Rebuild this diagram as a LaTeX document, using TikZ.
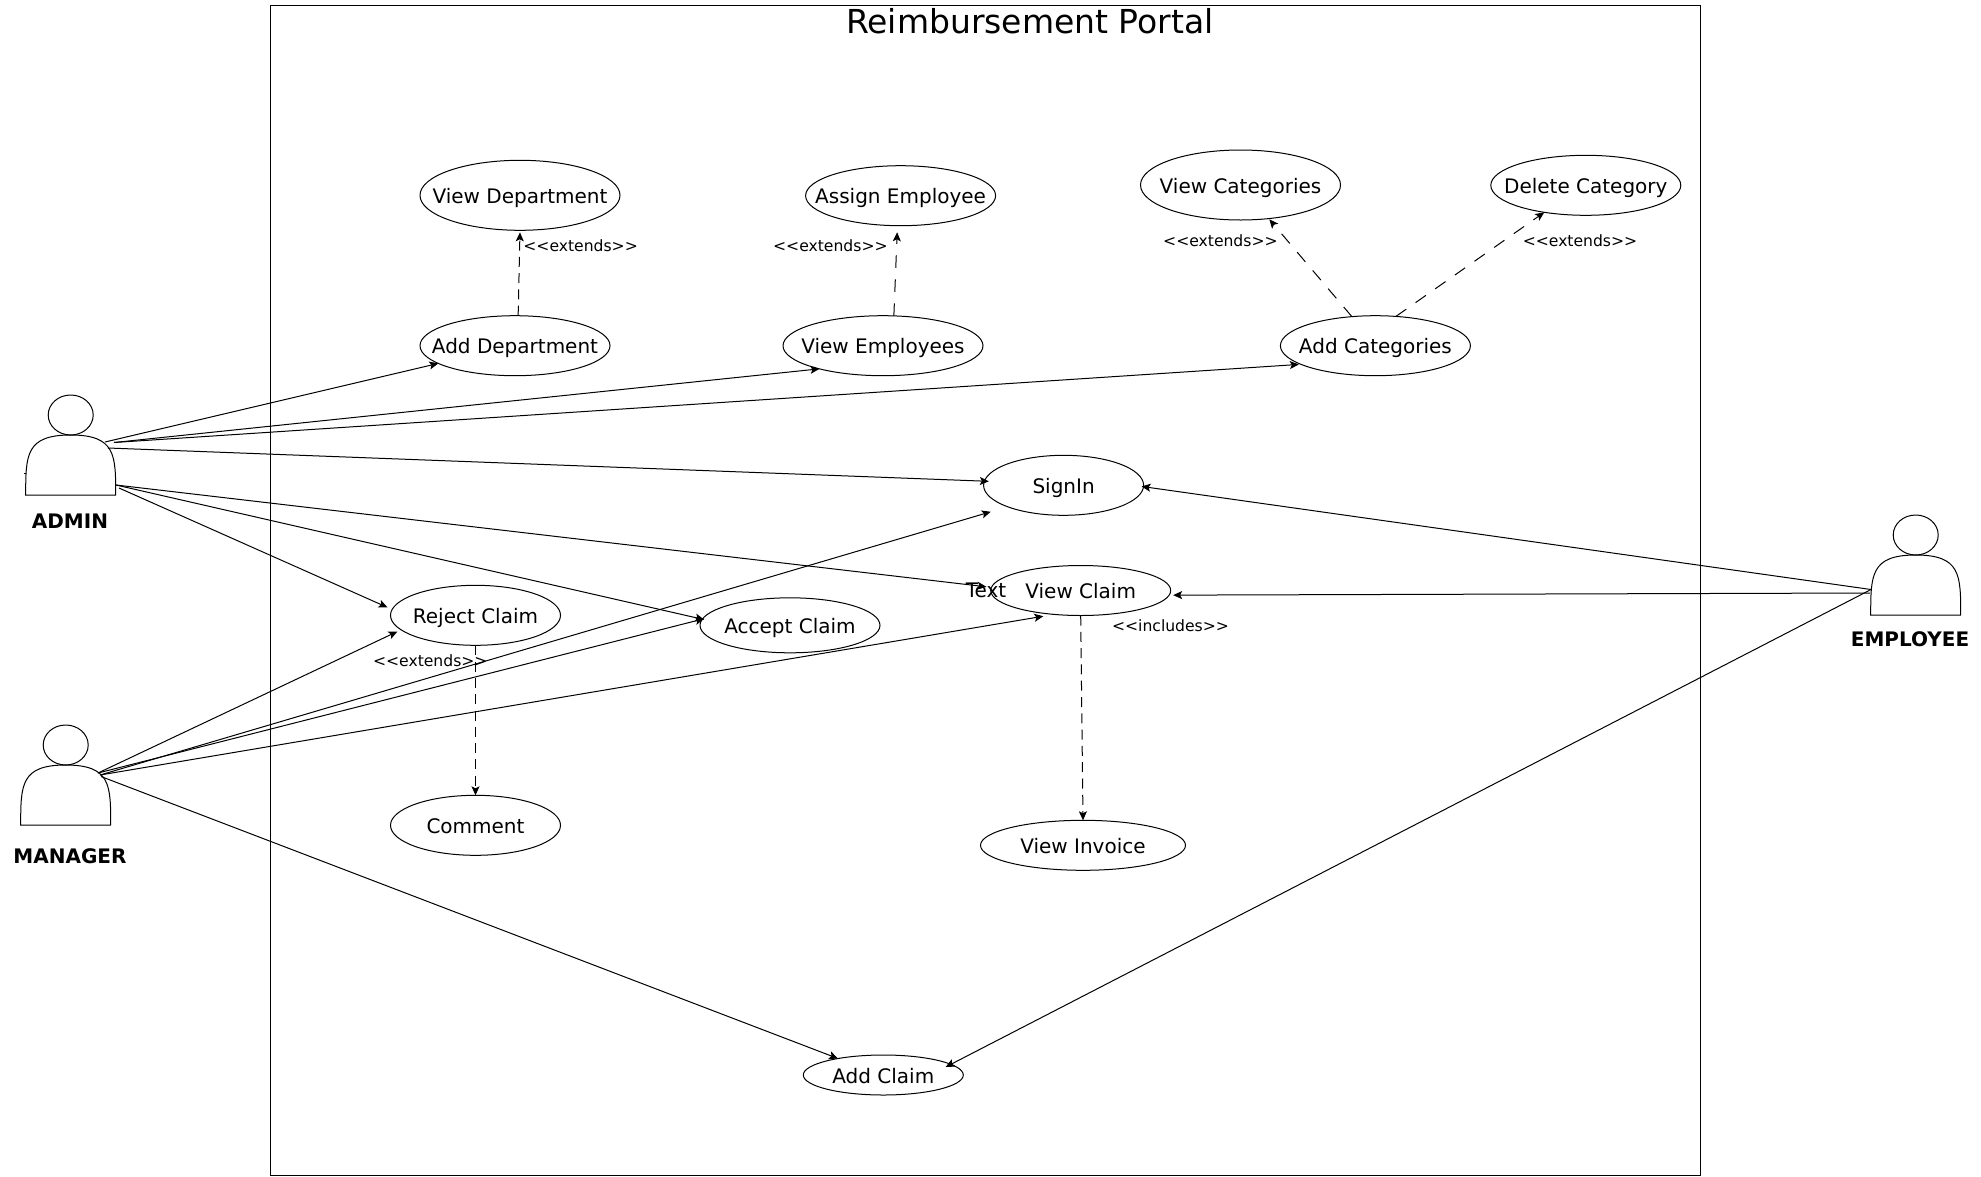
\documentclass[tikz,border=0pt]{standalone}
\usepackage{fontspec}
\setmainfont{DejaVu Sans}
\usetikzlibrary{shapes.geometric,arrows.meta}

\begin{document}
\begin{tikzpicture}[x=1pt,y=-1pt,line width=1pt,>={Stealth[length=9pt,width=8pt,inset=2pt]}]
	
	\tikzset{
		usecase/.style={ellipse,draw,inner sep=0pt,outer sep=0pt},
		uctext/.style={font=\fontsize{20}{24}\selectfont,inner sep=0pt,text height=18pt,text depth=2pt},
		stereo/.style={font=\fontsize{15.6}{18}\selectfont,inner sep=0pt,text height=12.5pt,text depth=2.5pt},
		actorname/.style={font=\fontsize{20}{24}\selectfont\bfseries,inner sep=0pt,text height=17pt,text depth=2pt},
		dep/.style={->,dash pattern=on 10pt off 6.3pt},
		deplong/.style={->,dash pattern=on 12.6pt off 11.4pt},
	}
	
	% Macro: use case ellipse with its text
	% Arguments: name, center x, center y, width, height, text
	\newcommand{\UseCase}[6]{%
		\node[usecase,minimum width=#4pt,minimum height=#5pt] (#1) at (#2,#3) {};
		\node[uctext] (#1T) at (#1) {#6};
	}
	
	% Macro: actor figure (head and body)
	% Arguments: left x, top y
	\newcommand{\ActorFig}[2]{%
		\draw (#1+45,#2+20) ellipse (22.5 and 20);
		\draw (#1,#2+100) .. controls (#1,#2+60) and (#1,#2+40) .. (#1+45,#2+40)
		.. controls (#1+90,#2+40) and (#1+90,#2+60) .. (#1+90,#2+100) -- cycle;
	}
	
	\useasboundingbox (0,0) rectangle (1981,1176);
	
	%========================================
	% System boundary
	%========================================
	\draw (270,5) rectangle (1700,1175);
	\node[font=\fontsize{33}{40}\selectfont,inner sep=0pt] (title) at (1030,21) {Reimbursement Portal};
	
	%========================================
	% Actors
	%========================================
	\ActorFig{25.7}{395}
	\ActorFig{20.7}{725}
	\ActorFig{1870.7}{515}
	
	\node[actorname] (adminL) at (70,521) {ADMIN};
	\node[actorname] (managerL) at (70,856) {MANAGER};
	\node[actorname] (employeeL) at (1910,639) {EMPLOYEE};
	
	% Where the connectors leave the actors
	\coordinate (adminA) at (105,442);
	\coordinate (adminB) at (114,442.5);
	\coordinate (adminC) at (108,448);
	\coordinate (adminD) at (116,485);
	\coordinate (adminE) at (119,488);
	\coordinate (managerA) at (98,773);
	\coordinate (managerB) at (100,775);
	\coordinate (managerC) at (101,776.5);
	\coordinate (employeeA) at (1871,589.5);
	\coordinate (employeeB) at (1870,593);
	\coordinate (adminTick) at (23.5,473.5);
	\coordinate (adminTickEnd) at (25.7,473.5);
	\draw (adminTick) -- (adminTickEnd);
	
	%========================================
	% Use cases
	%========================================
	\UseCase{viewdept}{520}{195.3}{200}{70}{View Department}
	\UseCase{adddept}{515}{345.7}{190}{60}{Add Department}
	\UseCase{assignemp}{900.6}{195.7}{190}{60}{Assign Employee}
	\UseCase{viewemp}{883}{345.7}{200}{60}{View Employees}
	\UseCase{viewcat}{1240.5}{185}{200}{70}{View Categories}
	\UseCase{delcat}{1585.8}{185.3}{190}{60}{Delete Category}
	\UseCase{addcat}{1375.4}{345.7}{190}{60}{Add Categories}
	\UseCase{signin}{1063.6}{485.3}{160}{60}{SignIn}
	\UseCase{viewclaim}{1080.7}{590.5}{180}{50}{View Claim}
	\UseCase{acceptclaim}{790}{625.3}{180}{55}{Accept Claim}
	\UseCase{rejectclaim}{475.5}{615.3}{170}{60}{Reject Claim}
	\UseCase{comment}{475.5}{825.3}{170}{60}{Comment}
	\UseCase{viewinvoice}{1083}{845.3}{205}{50}{View Invoice}
	\UseCase{addclaim}{883.3}{1075}{160}{40}{Add Claim}
	
	\node[uctext] (stray) at (986,589.5) {Text};
	
	%========================================
	% Stereotype labels
	%========================================
	\node[stereo] (ext1) at (580.6,246.7) {<{}<extends>{}>};
	\node[stereo] (ext2) at (830.4,246.7) {<{}<extends>{}>};
	\node[stereo] (ext3) at (1220.4,241.3) {<{}<extends>{}>};
	\node[stereo] (ext4) at (1580,241.3) {<{}<extends>{}>};
	\node[stereo] (ext5) at (430.3,661.7) {<{}<extends>{}>};
	\node[stereo] (inc1) at (1170.5,626.7) {<{}<includes>{}>};
	
	%========================================
	% Dashed dependencies
	%========================================
	\draw[dep,shorten >=2pt] (adddept.84) -- (viewdept.south);
	\draw[deplong,shorten >=6.6pt] (viewemp.70) -- (assignemp.264);
	\draw[deplong,shorten >=1pt] (addcat.129) -- (viewcat.310);
	\draw[deplong] (addcat.55) -- (delcat.213);
	\draw[dep] (rejectclaim.south) -- (comment.north);
	\draw[dep] (viewclaim.south) -- (viewinvoice.north);
	
	%========================================
	% Admin
	%========================================
	\draw[->] (adminA) -- (adddept.193);
	\draw[->] (adminB) -- (viewemp.200);
	\draw[->,shorten >=2pt] (adminB) -- (addcat.194);
	\draw[->,shorten >=-4.5pt] (adminC) -- (signin.177);
	\draw[->,shorten >=5pt] (adminD) -- (viewclaim.178);
	\draw[->,shorten >=-2pt] (adminD) -- (acceptclaim.176);
	\draw[->,shorten >=5pt] (adminE) -- (rejectclaim.176);
	
	%========================================
	% Manager
	%========================================
	\draw[->,shorten >=4pt] (managerA) -- (rejectclaim.191);
	\draw[->,shorten >=17.7pt] (managerB) -- (signin.201);
	\draw[->,shorten >=-2pt] (managerA) -- (acceptclaim.176);
	\draw[->,shorten >=11pt] (managerB) -- (viewclaim.222);
	\draw[->] (managerC) -- (addclaim.160);
	
	%========================================
	% Employee
	%========================================
	\draw[->,shorten >=-2pt] (employeeA) -- (signin.359);
	\draw[->,shorten >=4pt] (employeeB) -- (viewclaim.357);
	\draw[->,shorten >=-6pt] (employeeA) -- (addclaim.9);
	
\end{tikzpicture}
\end{document}
